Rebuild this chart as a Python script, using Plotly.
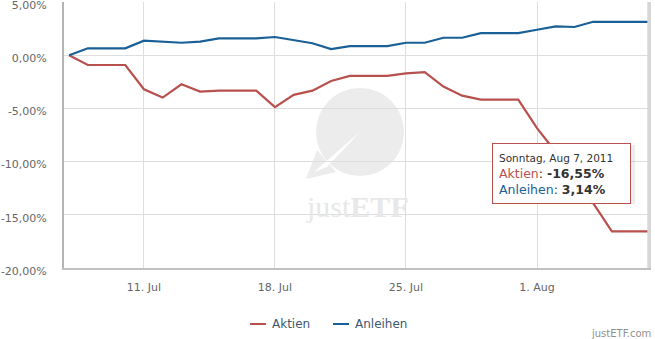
import pandas as pd
import plotly.graph_objects as go

# Daily performance (%) from 7 Jul to 7 Aug 2011
dates = pd.date_range("2011-07-07", "2011-08-07", freq="D")
aktien = [0.00, -0.92, -0.92, -0.92, -3.20, -3.98, -2.73, -3.42, -3.33, -3.33,
          -3.33, -4.88, -3.73, -3.33, -2.42, -1.95, -1.95, -1.95, -1.70, -1.60,
          -2.95, -3.80, -4.17, -4.17, -4.17, -6.85, -9.10, -11.50, -13.90,
          -16.55, -16.55, -16.55]
anleihen = [0.00, 0.65, 0.65, 0.65, 1.36, 1.30, 1.17, 1.27, 1.58, 1.58,
            1.58, 1.71, 1.43, 1.12, 0.58, 0.86, 0.86, 0.86, 1.17, 1.17,
            1.64, 1.64, 2.08, 2.08, 2.08, 2.39, 2.70, 2.65, 3.14, 3.14,
            3.14, 3.14]
series_names = ["Aktien", "Anleihen"]
series_colors = ["#b8504e", "#1a6096"]

x_tick_dates = ["2011-07-11", "2011-07-18", "2011-07-25", "2011-08-01"]
x_tick_labels = ["11. Jul", "18. Jul", "25. Jul", "1. Aug"]
y_tick_vals = [-20, -15, -10, -5, 0, 5]
y_tick_labels = ["-20,00%", "-15,00%", "-10,00%", "-5,00%", "0,00%", "5,00%"]

W, H = 655, 339
L, R, T, B = 64, 651, 2, 268  # plot area in pixels


def px(x):
    return (x - L) / (R - L)


def py(y):
    return (B - y) / (B - T)


def de(v):
    return f"{v:.2f}".replace(".", ",") + "%"


FONT = "DejaVu Sans, Verdana, sans-serif"

fig = go.Figure()
for name, color, values in zip(series_names, series_colors, [aktien, anleihen]):
    fig.add_trace(go.Scatter(
        x=dates, y=values, name=name, mode="lines",
        line=dict(color=color, width=2.2), showlegend=False,
    ))

shapes = []
annotations = []

# watermark logo (circle with arrow) behind the grid
wm = "#ececec"
shapes.append(dict(type="circle", xref="paper", yref="paper", layer="below",
                   x0=px(316), x1=px(404), y0=py(176), y1=py(88),
                   fillcolor=wm, line=dict(width=0)))
tail = [(306, 179), (317, 150), (336, 172)]
shapes.append(dict(type="path", xref="paper", yref="paper", layer="below",
                   path="M " + " L ".join(f"{px(a)},{py(b)}" for a, b in tail) + " Z",
                   fillcolor=wm, line=dict(width=0)))
arrow = [(314, 172), (361, 131), (327, 167)]
shapes.append(dict(type="path", xref="paper", yref="paper", layer="below",
                   path="M " + " L ".join(f"{px(a)},{py(b)}" for a, b in arrow) + " Z",
                   fillcolor="white", line=dict(width=0)))
annotations.append(dict(
    xref="paper", yref="paper", x=px(357), y=py(206), xanchor="center", yanchor="middle",
    text="just<b>ETF</b>", showarrow=False,
    font=dict(family="Liberation Serif, serif", size=30, color="#e8e8e8"),
))

# crosshair at the hovered date
shapes.append(dict(type="line", xref="x", yref="paper", layer="above",
                   x0=dates[-1], x1=dates[-1], y0=0, y1=1,
                   line=dict(color="#d6d6d6", width=4)))

# tooltip for the last date
shapes.append(dict(type="rect", xref="paper", yref="paper", layer="above",
                   x0=px(494), x1=px(635), y0=py(204), y1=py(145),
                   fillcolor="rgba(0,0,0,0.07)", line=dict(width=0)))
tip_text = (
    f"<span style='font-size:10.5px;color:#333333'>{dates[-1].strftime('Sonntag, %b %-d, %Y')}</span><br>"
    f"<span style='color:{series_colors[0]}'>{series_names[0]}</span>: <b>{de(aktien[-1])}</b><br>"
    f"<span style='color:{series_colors[1]}'>{series_names[1]}</span>: <b>{de(anleihen[-1])}</b>"
)
annotations.append(dict(
    xref="paper", yref="paper", x=px(492), y=py(143), xanchor="left", yanchor="top",
    text=tip_text, showarrow=False, align="left", valign="bottom",
    width=125, height=47, borderpad=6,
    bgcolor="rgba(255,255,255,0.96)", bordercolor=series_colors[0], borderwidth=1,
    font=dict(family=FONT, size=12.5, color="#333333"),
))

# legend drawn below the plot
legend_items = [(250, series_names[0], series_colors[0]), (333, series_names[1], series_colors[1])]
for x0, name, color in legend_items:
    shapes.append(dict(type="line", xref="paper", yref="paper",
                       x0=px(x0), x1=px(x0 + 16), y0=py(324), y1=py(324),
                       line=dict(color=color, width=2)))
    annotations.append(dict(
        xref="paper", yref="paper", x=px(x0 + 20), y=py(323.5), xanchor="left", yanchor="middle",
        text=name, showarrow=False, font=dict(family=FONT, size=12, color="#3e576f"),
    ))

# credit line
annotations.append(dict(
    xref="paper", yref="paper", x=px(653), y=py(333), xanchor="right", yanchor="middle",
    text="justETF.com", showarrow=False, font=dict(family=FONT, size=10, color="#909090"),
))

day_px = (537 - 144) / 21
x_start = dates[0] - pd.Timedelta(days=(69.1 - L) / day_px)
x_end = dates[-1] + pd.Timedelta(days=(R - 649.3) / day_px)

fig.update_layout(
    width=W, height=H,
    margin=dict(l=L, r=W - R, t=T, b=H - B, autoexpand=False),
    paper_bgcolor="white", plot_bgcolor="white",
    font=dict(family=FONT, size=11, color="#666666"),
    showlegend=False,
    shapes=shapes, annotations=annotations,
    xaxis=dict(
        range=[x_start, x_end], type="date", automargin=False,
        tickvals=x_tick_dates, ticktext=x_tick_labels,
        showgrid=True, gridcolor="#dedede", gridwidth=1,
        showline=True, linecolor="#c0c0c0", linewidth=2,
        ticks="", ticklabelstandoff=8, zeroline=False,
        tickfont=dict(family=FONT, size=11, color="#666666"),
    ),
    yaxis=dict(
        range=[-20, 5], tickvals=y_tick_vals, ticktext=y_tick_labels, automargin=False,
        showgrid=True, gridcolor="#dedede", gridwidth=1,
        showline=True, linecolor="#b4b4b4", linewidth=2,
        ticks="", ticklabelstandoff=13, ticklabelshift=3,
        ticklabeloverflow="allow", zeroline=False,
        tickfont=dict(family=FONT, size=11, color="#666666"),
    ),
)

fig.write_html("out.html")
